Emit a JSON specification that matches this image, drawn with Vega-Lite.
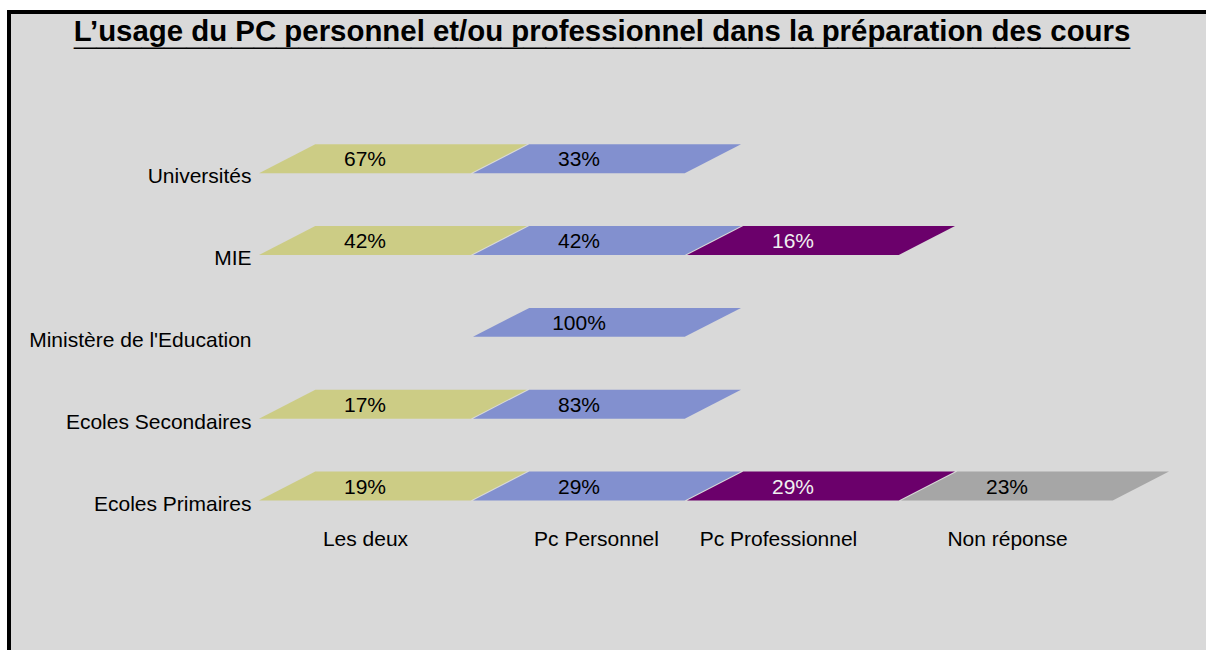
{
  "$schema": "https://vega.github.io/schema/vega-lite/v6.json",
  "width": 1207,
  "height": 648,
  "autosize": {"type": "none"},
  "padding": {"left": 9, "top": 12, "right": -10, "bottom": -10},
  "background": "white",
  "config": {
    "view": {"fill": "#D9D9D9", "stroke": "#000000", "strokeWidth": 4},
    "font": "Liberation Sans"
  },
  "title": {
    "text": "L’usage du PC personnel et/ou professionnel dans la préparation des cours",
    "subtitle": "_______________________________________________",
    "orient": "top",
    "anchor": "middle",
    "frame": "group",
    "offset": -46.5,
    "dx": -10.5,
    "font": "Liberation Sans",
    "fontSize": 29.4,
    "fontWeight": "bold",
    "color": "#000000",
    "subtitleFont": "Liberation Sans",
    "subtitleFontSize": 40.4,
    "subtitleFontWeight": "bold",
    "subtitleColor": "#000000",
    "subtitlePadding": -35.3
  },
  "data": {
    "values": [
      {"etab": "Universités", "usage": "Les deux", "part": 0.67},
      {"etab": "Universités", "usage": "Pc Personnel", "part": 0.33},
      {"etab": "MIE", "usage": "Les deux", "part": 0.42},
      {"etab": "MIE", "usage": "Pc Personnel", "part": 0.42},
      {"etab": "MIE", "usage": "Pc Professionnel", "part": 0.16},
      {"etab": "Ministère de l'Education", "usage": "Pc Personnel", "part": 1.0},
      {"etab": "Ecoles Secondaires", "usage": "Les deux", "part": 0.17},
      {"etab": "Ecoles Secondaires", "usage": "Pc Personnel", "part": 0.83},
      {"etab": "Ecoles Primaires", "usage": "Les deux", "part": 0.19},
      {"etab": "Ecoles Primaires", "usage": "Pc Personnel", "part": 0.29},
      {"etab": "Ecoles Primaires", "usage": "Pc Professionnel", "part": 0.29},
      {"etab": "Ecoles Primaires", "usage": "Non réponse", "part": 0.23}
    ]
  },
  "encoding": {
    "x": {
      "field": "usage",
      "type": "nominal",
      "sort": null,
      "scale": {
        "type": "point",
        "domain": ["Les deux", "Pc Personnel", "Pc Professionnel", "Non réponse"],
        "range": [384, 1026],
        "padding": 0
      },
      "axis": {
        "title": null,
        "orient": "bottom",
        "domain": false,
        "ticks": false,
        "tickSize": 0,
        "grid": false,
        "labelAngle": 0,
        "labelFont": "Liberation Sans",
        "labelFontSize": 21,
        "labelColor": "#000000",
        "labelBaseline": "alphabetic",
        "labelAlign": "center",
        "labelPadding": 0,
        "labelLimit": 400,
        "labelOverlap": false,
        "offset": -114.3,
        "labelOffset": {
          "condition": [
            {"test": "datum.value === 'Pc Personnel'", "value": -11},
            {"test": "datum.value === 'Pc Professionnel'", "value": -43}
          ],
          "value": -28
        }
      }
    },
    "y": {
      "field": "etab",
      "type": "nominal",
      "sort": null,
      "scale": {
        "type": "point",
        "domain": ["Universités", "MIE", "Ministère de l'Education", "Ecoles Secondaires", "Ecoles Primaires"],
        "range": [170.7, 498],
        "padding": 0
      },
      "axis": {
        "title": null,
        "orient": "left",
        "domain": false,
        "ticks": false,
        "tickSize": 0,
        "grid": false,
        "labelFont": "Liberation Sans",
        "labelFontSize": 21,
        "labelColor": "#000000",
        "labelBaseline": "alphabetic",
        "labelAlign": "right",
        "labelPadding": 0,
        "labelLimit": 400,
        "labelOverlap": false,
        "offset": -242
      }
    }
  },
  "layer": [
    {
      "mark": {
        "type": "point",
        "shape": "M -1 0.108 L -0.58 -0.108 L 1 -0.108 L 0.58 0.108 Z",
        "size": 71824,
        "filled": true,
        "opacity": 1,
        "strokeWidth": 0,
        "yOffset": -24
      },
      "encoding": {
        "color": {
          "field": "usage",
          "type": "nominal",
          "scale": {
            "domain": ["Les deux", "Pc Personnel", "Pc Professionnel", "Non réponse"],
            "range": ["#CCCC85", "#8290CF", "#6B006B", "#A6A6A6"]
          },
          "legend": null
        }
      }
    },
    {
      "mark": {
        "type": "text",
        "font": "Liberation Sans",
        "fontSize": 21,
        "baseline": "alphabetic",
        "align": "center",
        "xOffset": -28,
        "yOffset": -16.5
      },
      "encoding": {
        "text": {"field": "part", "type": "quantitative", "format": ".0%"},
        "color": {
          "condition": {"test": "datum.usage === 'Pc Professionnel'", "value": "#F0F0F0"},
          "value": "#000000"
        }
      }
    }
  ]
}
